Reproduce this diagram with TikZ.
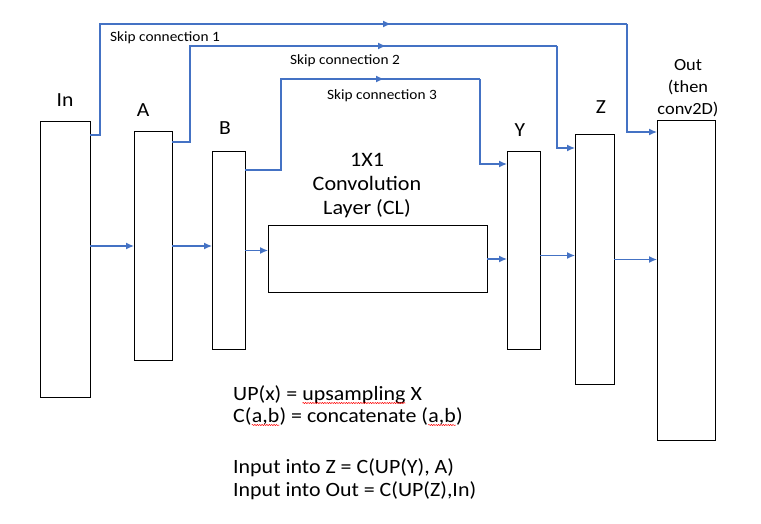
\documentclass[tikz,border=0pt]{standalone}
\usepackage{fontspec}
\setmainfont{Carlito}[FakeStretch=1.08]
\usepackage{tikz}
\usetikzlibrary{calc}
\usetikzlibrary{arrows.meta}
\usetikzlibrary{decorations.pathmorphing}

\definecolor{linkblue}{HTML}{4472C4}

\tikzset{
  layer/.style={draw, line width=1pt, inner sep=0pt, outer sep=0pt},
  flow/.style={-{Latex[length=8pt,width=7pt]}, linkblue, line width=1.3pt},
  skip/.style={linkblue, line width=1.3pt},
  lbl/.style={font=\fontsize{20}{22}\selectfont},
  skiplbl/.style={font=\fontsize{14.2}{16}\selectfont, anchor=west, inner sep=0pt},
  note/.style={font=\fontsize{20.3}{22.5}\selectfont, anchor=base west, inner sep=0pt},
  spellwave/.style={red, line width=0.5pt, decorate,
    decoration={snake, amplitude=0.6pt, segment length=2.4pt}},
}

% red wavy underline, as a spell checker draws it
\newcommand\wavy[1]{\tikz[baseline=(w.base), x=1pt, y=1pt]{%
    \node[inner sep=0pt, outer sep=0pt] (w) {#1};
    \draw[spellwave] ([yshift=-3pt]w.base west) -- ([yshift=-3pt]w.base east);}}

\begin{document}
\begin{tikzpicture}[x=1pt, y=-1pt]
    \useasboundingbox (0,0) rectangle (761,524);

    % layers
    \node[layer, minimum width=50pt, minimum height=275pt] (in)  at (65, 259.5)    {};
    \node[layer, minimum width=38pt, minimum height=228pt] (a)   at (153, 246)     {};
    \node[layer, minimum width=33pt, minimum height=197pt] (b)   at (228.5, 250.5) {};
    \node[layer, minimum width=219pt, minimum height=66pt] (cl)  at (377.5, 259)   {};
    \node[layer, minimum width=33pt, minimum height=197pt] (y)   at (523.5, 250.5) {};
    \node[layer, minimum width=39pt, minimum height=249pt] (z)   at (594.5, 259.5) {};
    \node[layer, minimum width=58pt, minimum height=319pt] (out) at (686, 280.5)   {};

    % labels
    \node[lbl] at (65, 100)  {In};
    \node[lbl] at (143, 110) {A};
    \node[lbl] at (225, 128) {B};
    \node[lbl] at (520, 130) {Y};
    \node[lbl] at (601, 107) {Z};
    \node[font=\fontsize{17}{22}\selectfont, align=center] at (688, 88) {Out\\(then\\conv2D)};
    \node[font=\fontsize{20.5}{24}\selectfont, align=center] at (367, 186) {1X1\\Convolution\\Layer (CL)};

    % main flow
    \draw[flow] (in.east |- a.west) -- (a.west);
    \draw[flow] (a.east) -- (a.east -| b.west);
    \draw[flow] (b.east) -- (b.east -| cl.west);
    \draw[flow] (cl.east) -- (cl.east -| y.west);
    \draw[flow] ([yshift=-5pt]y.east) -- ([yshift=-5pt]y.east -| z.west);
    \draw[flow] (z.east) -- (z.east -| out.west);

    % skip connections
    \draw[skip] ([yshift=-13pt]in.north east) -| (100, 24) -- (627, 24);
    \draw[flow] (100, 24) -- (391, 24);
    \draw[flow] (627, 24) |- ([yshift=-11pt]out.north west);
    \node[skiplbl] at (110, 38) {Skip connection 1};

    \draw[skip] ([yshift=-10pt]a.north east) -| (190, 46) -- (557, 46);
    \draw[flow] (190, 46) -- (386, 46);
    \draw[flow] (557, 46) |- ([yshift=-13pt]z.north west);
    \node[skiplbl] at (290, 61) {Skip connection 2};

    \draw[skip] ([yshift=-18pt]b.north east) -| (281, 79) -- (480, 79);
    \draw[flow] (281, 79) -- (384, 79);
    \draw[flow] (480, 79) |- ([yshift=-12pt]y.north west);
    \node[skiplbl] at (327, 96) {Skip connection 3};

    % notes
    \node[note] (up)  at (233, 400) {UP(x) = \wavy{upsampling} X};
    \node[note] (cat) at (233, 422) {C(\wavy{a,b}) = concatenate (\wavy{a,b})};
    \node[note] (inz) at (233, 473) {Input into Z = C(UP(Y), A)};
    \node[note] (ino) at (233, 496) {Input into Out = C(UP(Z),In)};
\end{tikzpicture}
\end{document}
